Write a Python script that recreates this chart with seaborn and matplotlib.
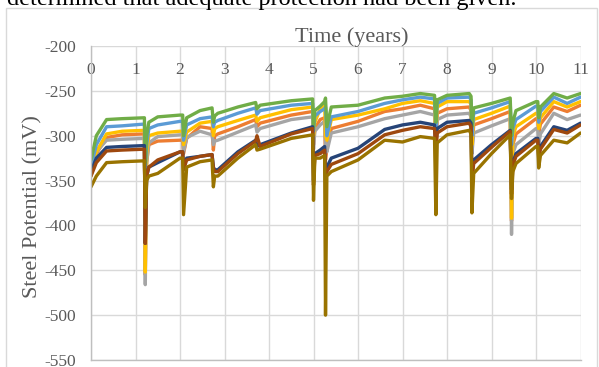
import matplotlib
matplotlib.use("Agg")
import matplotlib.pyplot as plt
import seaborn as sns
import pandas as pd
from matplotlib.patches import Rectangle

# ---------------- data ----------------
time_years = [0, 0.12, 0.35, 0.7, 1.2, 1.22, 1.25, 1.3, 1.5, 2.0,
              2.06, 2.08, 2.15, 2.45, 2.72, 2.75, 2.78, 2.85, 3.3, 3.7,
              3.73, 3.8, 4.5, 4.98, 5.0, 5.03, 5.15, 5.25, 5.27, 5.3,
              5.4, 6.0, 6.6, 7.0, 7.4, 7.72, 7.75, 7.78, 8.0, 8.5,
              8.54, 8.56, 8.6, 9.0, 9.42, 9.45, 9.48, 9.55, 10.0, 10.04,
              10.06, 10.1, 10.4, 10.7, 11.0]

orange = [-340, -320, -302, -299, -298, -455, -330, -310, -306, -305,
          -305, -320, -303, -290, -292, -316, -300, -298, -290, -282,
          -290, -286, -277, -273, -310, -292, -282, -280, -327, -315,
          -292, -284, -273, -270, -266, -270, -340, -275, -270, -268,
          -272, -315, -288, -281, -273, -395, -310, -298, -281, -281,
          -298, -287, -268, -273, -266]

gray = [-340, -318, -305, -304, -303, -466, -330, -308, -301, -299,
        -299, -318, -302, -295, -299, -310, -306, -305, -296, -288,
        -296, -292, -282, -279, -315, -295, -288, -284, -310, -318,
        -297, -290, -281, -277, -273, -277, -300, -282, -277, -275,
        -279, -320, -297, -289, -281, -410, -320, -310, -292, -292,
        -310, -298, -275, -282, -277]

gold = [-345, -318, -298, -295, -294, -452, -320, -300, -297, -295,
        -295, -310, -296, -286, -284, -300, -292, -290, -283, -277,
        -284, -280, -271, -268, -300, -285, -270, -265, -300, -305,
        -282, -277, -270, -264, -261, -264, -300, -268, -262, -262,
        -265, -310, -282, -275, -267, -392, -300, -290, -275, -275,
        -292, -280, -262, -268, -262]

light_blue = [-335, -310, -290, -289, -287, -340, -310, -292, -288, -284,
              -284, -305, -288, -281, -279, -290, -285, -283, -275, -269,
              -276, -272, -266, -264, -295, -278, -273, -270, -268, -300,
              -279, -273, -264, -260, -257, -259, -290, -264, -258, -257,
              -260, -300, -275, -269, -262, -310, -292, -282, -267, -267,
              -285, -273, -257, -264, -257]

green = [-327, -300, -282, -281, -280, -330, -300, -285, -279, -277,
         -277, -300, -280, -272, -269, -285, -278, -275, -268, -263,
         -270, -266, -261, -259, -290, -272, -267, -262, -258, -290,
         -268, -266, -258, -256, -253, -255, -285, -260, -255, -253,
         -256, -290, -269, -264, -258, -300, -285, -272, -262, -262,
         -280, -268, -253, -258, -253]

dark_blue = [-340, -325, -313, -312, -311, -420, -345, -335, -330, -318,
             -318, -335, -325, -323, -321, -335, -338, -338, -318, -305,
             -312, -310, -297, -290, -350, -320, -316, -312, -345, -335,
             -325, -314, -293, -288, -285, -288, -310, -292, -285, -283,
             -286, -345, -327, -310, -294, -360, -330, -320, -303, -303,
             -322, -312, -290, -294, -286]

brown = [-345, -330, -317, -316, -315, -420, -345, -335, -327, -318,
         -318, -338, -327, -323, -321, -336, -340, -340, -320, -306,
         -300, -312, -298, -292, -355, -322, -320, -316, -350, -340,
         -332, -320, -299, -294, -290, -292, -315, -297, -290, -286,
         -290, -350, -331, -313, -295, -365, -333, -323, -305, -305,
         -325, -315, -293, -297, -288]

olive = [-357, -345, -330, -329, -328, -380, -350, -345, -342, -325,
         -325, -388, -335, -329, -327, -357, -345, -345, -325, -310,
         -316, -315, -303, -299, -372, -325, -325, -322, -500, -345,
         -340, -327, -305, -307, -301, -303, -388, -308, -299, -294,
         -298, -386, -342, -320, -299, -370, -340, -331, -312, -312,
         -336, -322, -305, -308, -297]

series_names = ["orange", "gray", "gold", "light_blue", "green",
                "dark_blue", "brown", "olive"]
series_values = [orange, gray, gold, light_blue, green, dark_blue, brown, olive]
series_colors = ["#ED7D31", "#A5A5A5", "#FFC000", "#5B9BD5", "#70AD47",
                 "#264478", "#9E480E", "#997300"]

x_ticks = list(range(0, 12))
y_ticks = [-550, -500, -450, -400, -350, -300, -250, -200]

# ---------------- build long table ----------------
frames = []
for name, vals in zip(series_names, series_values):
    frames.append(pd.DataFrame({"t": time_years, "v": vals, "series": name}))
df = pd.concat(frames, ignore_index=True)

# ---------------- figure ----------------
sns.set_style("white")
plt.rcParams["font.family"] = ["Liberation Serif", "DejaVu Serif"]
plt.rcParams["axes.unicode_minus"] = False

W, H = 599, 367
fig = plt.figure(figsize=(W / 100, H / 100), dpi=100)

# outer chart border
fig.patches.append(Rectangle((6 / W, -0.02), (597 - 6) / W, (H - 8) / H + 0.02,
                             transform=fig.transFigure, fill=False,
                             edgecolor="#D9D9D9", linewidth=1.0))

# cut-off document text above the chart
fig.text(7 / W, 1 - 4.5 / H, "determined that adequate protection had been given.",
         fontsize=17.5, color="black", ha="left", va="baseline")

left, right = 91 / W, 580.5 / W
top, bottom = 1 - 46 / H, 1 - 360 / H
ax = fig.add_axes([left, bottom, right - left, top - bottom])

sns.lineplot(data=df, x="t", y="v", hue="series", hue_order=series_names,
             palette=dict(zip(series_names, series_colors)), estimator=None,
             legend=False, linewidth=2.4, ax=ax, sort=False)

ax.set_xlim(0, 11)
ax.set_ylim(-550, -200)
ax.set_xticks(x_ticks)
ax.set_yticks(y_ticks)
ax.grid(True, color="#D9D9D9", linewidth=1.0)
ax.set_axisbelow(True)

for s in ["top", "right"]:
    ax.spines[s].set_visible(False)
for s in ["left", "bottom"]:
    ax.spines[s].set_color("#BFBFBF")
    ax.spines[s].set_linewidth(1.0)

ax.tick_params(axis="y", length=0, pad=11, labelsize=12.5, labelcolor="#595959")
ax.tick_params(axis="x", length=0, top=False, bottom=False, labeltop=True,
               labelbottom=False, pad=-23, labelsize=12.5, labelcolor="#595959")

ax.set_xlabel("")
ax.set_ylabel("")
fig.text(352 / W, 1 - 37 / H, "Time (years)", fontsize=16, color="#595959",
         ha="center", va="center")
fig.text(33 / W, 1 - 207 / H, "Steel Potential (mV)", fontsize=16,
         color="#595959", ha="center", va="center", rotation=90)

fig.savefig("out.png", dpi=100)
